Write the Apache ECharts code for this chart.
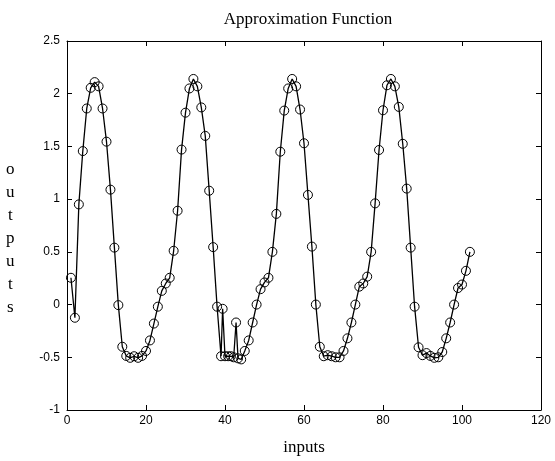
<!DOCTYPE html>
<html>
<head>
<meta charset="utf-8">
<script src="https://cdn.jsdelivr.net/npm/echarts@6/dist/echarts.min.js"></script>
<style>html,body{margin:0;padding:0;background:#fff}#c{width:555px;height:461px}</style>
</head>
<body>
<div id="c"></div>
<script>
var inputs = [1,2,3,4,5,6,7,8,9,10,11,12,13,14,15,16,17,18,19,20,21,22,23,24,25,26,27,28,29,30,31,32,33,34,35,36,37,
  38,39,39.4,40,40.8,41.5,42.2,42.8,43.3,44.1,
  45,46,47,48,49,50,51,52,53,54,55,56,57,58,59,60,61,62,63,64,65,66,67,68,69,70,71,72,73,74,75,76,77,
  78,79,80,81,82,83,84,85,86,87,88,89,90,91,92,93,94,95,96,97,98,99,100,101,102];
var outputs = [0.254,-0.125,0.95,1.456,1.86,2.056,2.11,2.07,1.86,1.545,1.09,0.54,-0.005,-0.40,-0.487,-0.505,-0.49,-0.505,-0.487,-0.44,-0.34,-0.18,-0.02,0.13,0.2,0.254,0.51,0.89,1.47,1.82,2.05,2.14,2.07,1.87,1.60,1.08,0.545,
  -0.02,-0.49,-0.04,-0.49,-0.49,-0.49,-0.50,-0.17,-0.51,-0.52,
  -0.44,-0.34,-0.17,0.0,0.146,0.21,0.254,0.50,0.86,1.45,1.84,2.05,2.14,2.07,1.85,1.53,1.04,0.55,0.0,-0.40,-0.49,-0.48,-0.49,-0.50,-0.50,-0.44,-0.32,-0.17,0.0,0.17,0.20,0.265,0.50,
  0.96,1.466,1.843,2.08,2.14,2.07,1.875,1.525,1.10,0.54,-0.02,-0.405,-0.48,-0.46,-0.487,-0.505,-0.50,-0.45,-0.32,-0.17,0.0,0.157,0.19,0.32,0.50];
var xTicks = {min:0, max:120, interval:20};
var yTicks = {min:-1, max:2.5, interval:0.5};
var titleText = 'Approximation Function';
var xLabel = 'inputs';
var yLabel = 'outputs';

var data = inputs.map(function(x,i){return [x, outputs[i]];});
var chart = echarts.init(document.getElementById('c'), null, {renderer:'canvas'});
var axisCommon = {
  axisLine:{show:true, onZero:false, lineStyle:{color:'#000', width:1}},
  axisTick:{show:true, inside:true, length:5, lineStyle:{color:'#000'}},
  splitLine:{show:false}
};
chart.setOption({
  backgroundColor:'#fff',
  animation:false,
  title:{text:titleText, left:303, top:6, textAlign:'center',
    textStyle:{fontFamily:'Liberation Serif', fontSize:17, fontWeight:'normal', color:'#000'}},
  grid:{left:67, top:41, right:14, bottom:47},
  xAxis:[
    Object.assign({type:'value', position:'bottom', min:xTicks.min, max:xTicks.max, interval:xTicks.interval,
      name:xLabel, nameLocation:'middle', nameGap:29,
      nameTextStyle:{fontFamily:'Liberation Serif', fontSize:17, color:'#000'},
      axisLabel:{color:'#000', fontFamily:'Liberation Sans', fontSize:12, margin:5}}, axisCommon),
    Object.assign({type:'value', position:'top', min:xTicks.min, max:xTicks.max, interval:xTicks.interval,
      axisLabel:{show:false}}, axisCommon)
  ],
  yAxis:[
    Object.assign({type:'value', position:'left', min:yTicks.min, max:yTicks.max, interval:yTicks.interval,
      axisLabel:{color:'#000', fontFamily:'Liberation Sans', fontSize:12, margin:7}}, axisCommon),
    Object.assign({type:'value', position:'right', min:yTicks.min, max:yTicks.max, interval:yTicks.interval,
      axisLabel:{show:false}}, axisCommon)
  ],
  graphic:[{type:'text', left:6, top:158,
    style:{text:yLabel.split('').join('\n'), fontFamily:'Liberation Serif', fontSize:17, lineHeight:23, fill:'#000', textAlign:'center'}}],
  series:[{
    type:'line', data:data, xAxisIndex:0, yAxisIndex:0,
    symbol:'circle', symbolSize:9, showAllSymbol:true,
    lineStyle:{color:'#000', width:1.3},
    itemStyle:{color:'rgba(0,0,0,0)', borderColor:'#000', borderWidth:1},
    emphasis:{disabled:true}
  }]
});
</script>
</body>
</html>
